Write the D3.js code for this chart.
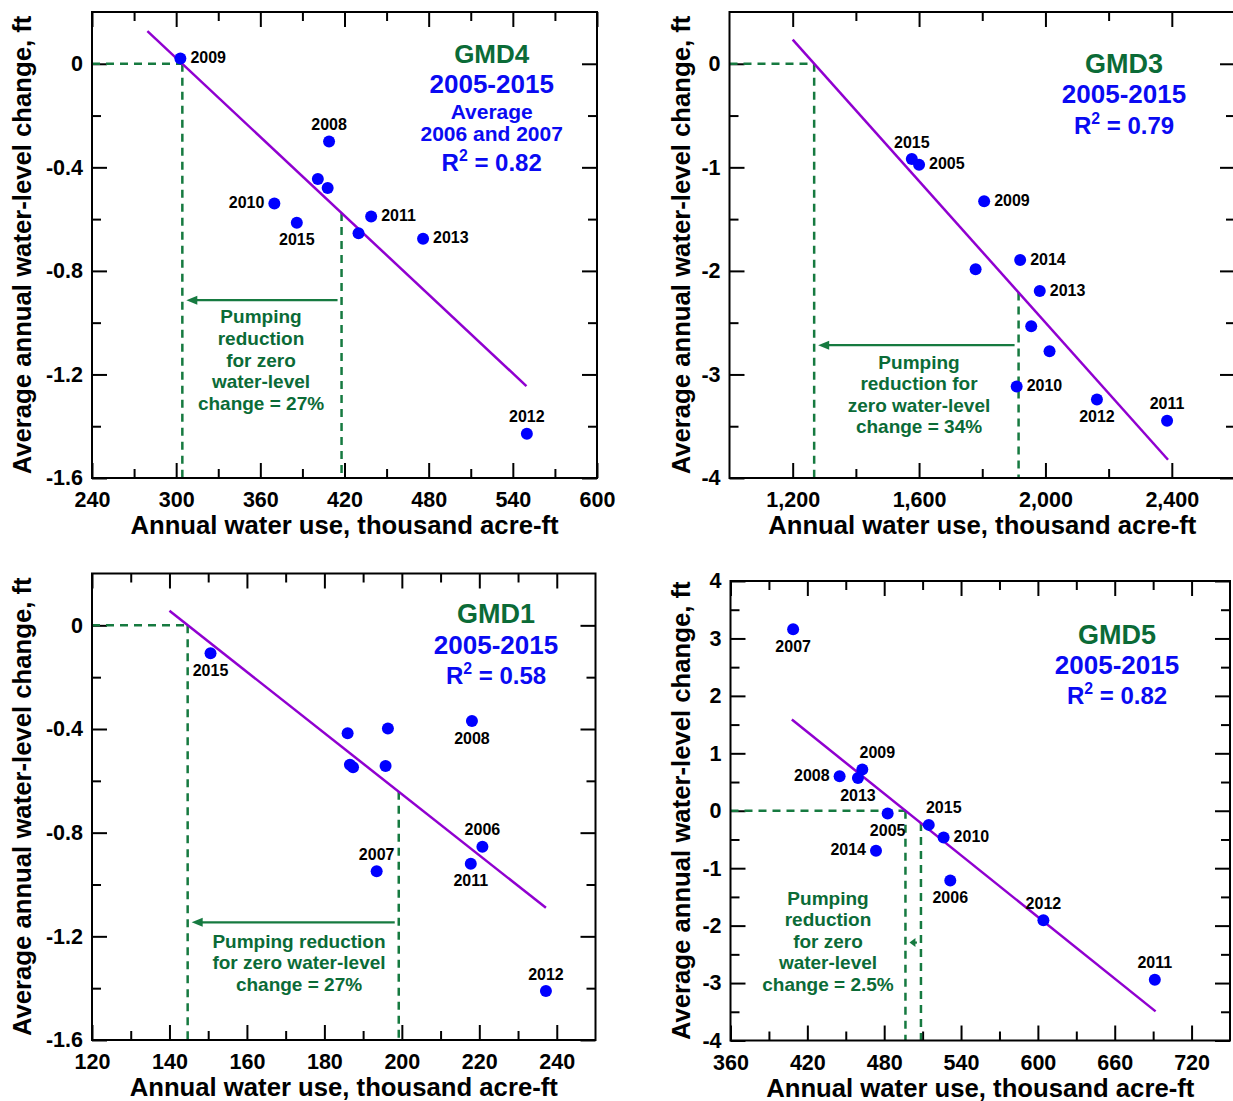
<!DOCTYPE html>
<html><head><meta charset="utf-8">
<script src="https://cdn.jsdelivr.net/npm/d3@7"></script>
<style>
body{margin:0;background:#fff}
svg{display:block}
text{font-family:"Liberation Sans",Arial,Helvetica,sans-serif;font-weight:bold}
</style>
</head><body>
<svg id="chart" width="1233" height="1101"></svg>
<script>
// ---------------- DATA ----------------
// GMD4
const gmd4Years  = ["2009","2008","","","2010","2015","2011","","2013","2012"];
const gmd4Use    = [303, 409, 401, 408, 370, 386, 439, 430, 476, 550];
const gmd4Change = [0.02, -0.30, -0.445, -0.48, -0.54, -0.614, -0.59, -0.655, -0.676, -1.429];
const gmd4Fit    = [279.5, 0.126, 549.7, -1.245];   // [use0, change0, use1, change1]
const gmd4ZeroUse = 304.4, gmd4CurrentUse = 417.9, gmd4ArrowChange = -0.913;
const gmd4XTicks = [240,300,360,420,480,540,600];
const gmd4YTicks = [0,-0.4,-0.8,-1.2,-1.6];
const gmd4Title  = ["GMD4","2005-2015","Average","2006 and 2007","R2 = 0.82"];
const gmd4Pump   = ["Pumping","reduction","for zero","water-level","change = 27%"];

// GMD3
const gmd3Years  = ["2015","2005","2009","","2014","2013","","","2010","2012","2011"];
const gmd3Use    = [1577,1600,1806,1779,1920,1982,1955,2013,1909,2163,2385];
const gmd3Change = [-0.92,-0.975,-1.327,-1.985,-1.895,-2.194,-2.534,-2.776,-3.116,-3.242,-3.448];
const gmd3Fit    = [1200, 0.233, 2388, -3.824];
const gmd3ZeroUse = 1268, gmd3CurrentUse = 1915, gmd3ArrowChange = -2.717;
const gmd3XTicks = [1200,1600,2000,2400];
const gmd3YTicks = [0,-1,-2,-3,-4];
const gmd3Title  = ["GMD3","2005-2015","R2 = 0.79"];
const gmd3Pump   = ["Pumping","reduction for","zero water-level","change = 34%"];

// GMD1
const gmd1Years  = ["2015","","","","","","2008","2006","2011","2007","2012"];
const gmd1Use    = [150.6,186,196.4,186.6,187.4,195.8,218.1,220.8,217.8,193.5,237.2];
const gmd1Change = [-0.108,-0.416,-0.398,-0.538,-0.548,-0.543,-0.369,-0.854,-0.92,-0.949,-1.411];
const gmd1Fit    = [140, 0.056, 237.2, -1.09];
const gmd1ZeroUse = 144.7, gmd1CurrentUse = 199.2, gmd1ArrowChange = -1.146;
const gmd1XTicks = [120,140,160,180,200,220,240];
const gmd1YTicks = [0,-0.4,-0.8,-1.2,-1.6];
const gmd1Title  = ["GMD1","2005-2015","R2 = 0.58"];
const gmd1Pump   = ["Pumping reduction","for zero water-level","change = 27%"];

// GMD5
const gmd5Years  = ["2007","2008","2009","2013","2005","2014","2015","2010","2006","2012","2011"];
const gmd5Use    = [408.9,445.2,462.9,459.5,482.7,473.6,514.8,526.4,531.6,604.3,691.3];
const gmd5Change = [3.158,0.599,0.719,0.569,-0.048,-0.695,-0.246,-0.467,-1.216,-1.905,-2.942];
const gmd5Fit    = [407.9, 1.588, 691.9, -3.493];
const gmd5ZeroUse = 496.6, gmd5CurrentUse = 508.7, gmd5ArrowChange = -2.295;
const gmd5XTicks = [360,420,480,540,600,660,720];
const gmd5YTicks = [4,3,2,1,0,-1,-2,-3,-4];
const gmd5Title  = ["GMD5","2005-2015","R2 = 0.82"];
const gmd5Pump   = ["Pumping","reduction","for zero","water-level","change = 2.5%"];

const xTitle = "Annual water use, thousand acre-ft";
const yTitle = "Average annual water-level change, ft";

// ---------------- LAYOUT / STYLE ----------------
const GREEN_TXT = "#0b6b37", GREEN_DASH = "#167a40", BLUE = "#0000ff", BLUE_TXT = "#0a0af2", PURPLE = "#9000d0";
const svg = d3.select("#chart");

// label placement of year labels (per panel, by index)
const gmd4Place = ["right","above","","","left","below","right","","right","above"];
const gmd3Place = ["above","right","right","","right","right","","","right","below","above"];
const gmd1Place = ["below","","","","","","below","above","below","above","above"];
const gmd5Place = ["below","left","aboveright","below","below","left","aboveright","right","below","above","above"];

const fmtDec = d => d === 0 ? "0" : d.toFixed(1).replace("\u2212","-");
const fmtInt = d => String(d);
const fmtComma = d => d3.format(",")(d);

const panels = [
  {years:gmd4Years,use:gmd4Use,change:gmd4Change,place:gmd4Place,fit:gmd4Fit,zero:gmd4ZeroUse,cur:gmd4CurrentUse,arrowY:gmd4ArrowChange,
   frame:{l:92,t:12,r:597,b:478}, xDom:[240,600], yDom:[-1.6,0.2], xT:gmd4XTicks, yT:gmd4YTicks, xMinorStep:30, yMinorStep:0.2,
   xFmt:fmtInt, yFmt:fmtDec, yTitleX:22,
   title:gmd4Title, titleX:491.7, titleY:[54,84,112,134,163], titleSize:[26,26,21,21,24],
   pump:gmd4Pump, pumpX:261, pumpY0:316.5, pumpStep:21.7},
  {years:gmd3Years,use:gmd3Use,change:gmd3Change,place:gmd3Place,fit:gmd3Fit,zero:gmd3ZeroUse,cur:gmd3CurrentUse,arrowY:gmd3ArrowChange,
   frame:{l:729.5,t:12,r:1235,b:478}, xDom:[1000,2600], yDom:[-4,0.5], xT:gmd3XTicks, yT:gmd3YTicks, xMinorStep:200, yMinorStep:0.5,
   xFmt:fmtComma, yFmt:fmtInt, yTitleX:681,
   title:gmd3Title, titleX:1124, titleY:[64,94,126], titleSize:[27,26,24],
   pump:gmd3Pump, pumpX:919, pumpY0:362, pumpStep:21.6},
  {years:gmd1Years,use:gmd1Use,change:gmd1Change,place:gmd1Place,fit:gmd1Fit,zero:gmd1ZeroUse,cur:gmd1CurrentUse,arrowY:gmd1ArrowChange,
   frame:{l:92,t:573.5,r:595.5,b:1040}, xDom:[120,250], yDom:[-1.6,0.2], xT:gmd1XTicks, yT:gmd1YTicks, xMinorStep:10, yMinorStep:0.2,
   xFmt:fmtInt, yFmt:fmtDec, yTitleX:22,
   title:gmd1Title, titleX:496, titleY:[613.5,644.5,675.5], titleSize:[27,26,24],
   pump:gmd1Pump, pumpX:299, pumpY0:941, pumpStep:21.5},
  {years:gmd5Years,use:gmd5Use,change:gmd5Change,place:gmd5Place,fit:gmd5Fit,zero:gmd5ZeroUse,cur:gmd5CurrentUse,arrowY:gmd5ArrowChange,
   frame:{l:730.5,t:581,r:1230,b:1040.5}, xDom:[360,750], yDom:[-4,4], xT:gmd5XTicks, yT:gmd5YTicks, xMinorStep:30, yMinorStep:0.5,
   xFmt:fmtInt, yFmt:fmtInt, yTitleX:681,
   title:gmd5Title, titleX:1117, titleY:[635,665,696], titleSize:[27,26,24],
   pump:gmd5Pump, pumpX:828, pumpY0:898, pumpStep:21.5}
];

function styleAxis(g){
  g.attr("font-family",null).attr("font-size",null);
  g.select(".domain").remove();
  g.selectAll(".tick line").attr("stroke","#000").attr("stroke-width",2);
  g.selectAll(".tick text").attr("fill","#000").attr("font-size",21.5)
    .style("font-family",'"Liberation Sans",Arial,sans-serif').style("font-weight","bold");
}

function minorValues(dom, step, majors){
  const lo = Math.min(dom[0],dom[1]), hi = Math.max(dom[0],dom[1]);
  const vals = [];
  for (let v = Math.ceil(lo/step - 1e-9)*step; v <= hi + 1e-9; v += step){
    const r = Math.round(v*1000)/1000;
    if (!majors.some(m => Math.abs(m-r) < 1e-6) && r > lo + 1e-9 && r < hi - 1e-9) vals.push(r);
  }
  return vals;
}

panels.forEach(p => {
  const f = p.frame;
  const x = d3.scaleLinear().domain(p.xDom).range([f.l, f.r]);
  const y = d3.scaleLinear().domain(p.yDom).range([f.b, f.t]);
  const g = svg.append("g");

  const xMinor = minorValues(p.xDom, p.xMinorStep, p.xT);
  const yMinor = minorValues(p.yDom, p.yMinorStep, p.yT);

  // bottom axis
  g.append("g").attr("transform",`translate(0,${f.b})`)
    .call(d3.axisBottom(x).tickValues(p.xT).tickSize(-15).tickPadding(14).tickFormat(p.xFmt)).call(styleAxis);
  g.append("g").attr("transform",`translate(0,${f.b})`)
    .call(d3.axisBottom(x).tickValues(xMinor).tickSize(-9).tickFormat("")).call(styleAxis);
  // top axis
  g.append("g").attr("transform",`translate(0,${f.t})`)
    .call(d3.axisTop(x).tickValues(p.xT).tickSize(-15).tickFormat("")).call(styleAxis);
  g.append("g").attr("transform",`translate(0,${f.t})`)
    .call(d3.axisTop(x).tickValues(xMinor).tickSize(-9).tickFormat("")).call(styleAxis);
  // left axis
  g.append("g").attr("transform",`translate(${f.l},0)`)
    .call(d3.axisLeft(y).tickValues(p.yT).tickSize(-15).tickPadding(9).tickFormat(p.yFmt)).call(styleAxis);
  g.append("g").attr("transform",`translate(${f.l},0)`)
    .call(d3.axisLeft(y).tickValues(yMinor).tickSize(-9).tickFormat("")).call(styleAxis);
  // right axis
  g.append("g").attr("transform",`translate(${f.r},0)`)
    .call(d3.axisRight(y).tickValues(p.yT).tickSize(-15).tickFormat("")).call(styleAxis);
  g.append("g").attr("transform",`translate(${f.r},0)`)
    .call(d3.axisRight(y).tickValues(yMinor).tickSize(-9).tickFormat("")).call(styleAxis);

  // axis titles
  g.append("text").attr("x",(f.l+f.r)/2).attr("y",f.b+56).attr("text-anchor","middle")
    .attr("font-size",25.7).attr("fill","#000").text(xTitle);
  g.append("text").attr("transform",`translate(${p.yTitleX},${(f.t+f.b)/2}) rotate(-90)`)
    .attr("text-anchor","middle").attr("dy","0.35em").attr("font-size",25.7).attr("fill","#000").text(yTitle);

  // dashed guide lines
  const [u0,c0,u1,c1] = p.fit;
  const fitAt = u => c0 + (c1-c0)*(u-u0)/(u1-u0);
  const dash = {stroke:GREEN_DASH,"stroke-width":2.5,"stroke-dasharray":"8,6",fill:"none"};
  const addLine = (x1,y1,x2,y2,st) => {
    const l = g.append("line").attr("x1",x1).attr("y1",y1).attr("x2",x2).attr("y2",y2);
    Object.entries(st).forEach(([k,v]) => l.attr(k,v));
  };
  addLine(f.l, y(0), x(p.zero), y(0), dash);
  addLine(x(p.zero), y(0), x(p.zero), f.b, dash);
  addLine(x(p.cur), y(fitAt(p.cur)), x(p.cur), f.b, dash);

  // arrow
  const ay = y(p.arrowY), tip = x(p.zero)+4, start = x(p.cur)-4;
  const headLen = Math.min(11, (start-tip)*0.8);
  addLine(start, ay, tip+headLen-1, ay, {stroke:GREEN_DASH,"stroke-width":2.2});
  g.append("path").attr("d",`M${tip},${ay} L${tip+headLen},${ay-4.5} L${tip+headLen},${ay+4.5} Z`).attr("fill",GREEN_DASH);

  // pumping text
  p.pump.forEach((t,i) => {
    g.append("text").attr("x",p.pumpX).attr("y",p.pumpY0+i*p.pumpStep).attr("dy","0.35em")
      .attr("text-anchor","middle").attr("font-size",19).attr("fill",GREEN_TXT).text(t);
  });

  // regression line
  g.append("line").attr("x1",x(u0)).attr("y1",y(c0)).attr("x2",x(u1)).attr("y2",y(c1))
    .attr("stroke",PURPLE).attr("stroke-width",2.5);

  // points
  const pts = p.use.map((u,i) => ({u, c:p.change[i], yr:p.years[i], pl:p.place[i]}));
  g.selectAll("circle.pt").data(pts).join("circle").attr("class","pt")
    .attr("cx",d => x(d.u)).attr("cy",d => y(d.c)).attr("r",6).attr("fill",BLUE);

  // year labels
  const off = {right:[10,-1,"start"], left:[-10,-1,"end"], above:[0,-17,"middle"], below:[0,17,"middle"], aboveright:[15,-17,"middle"]};
  g.selectAll("text.yr").data(pts.filter(d => d.yr)).join("text").attr("class","yr")
    .attr("x",d => x(d.u)+off[d.pl][0]).attr("y",d => y(d.c)+off[d.pl][1]).attr("dy","0.35em")
    .attr("text-anchor",d => off[d.pl][2]).attr("font-size",16).attr("fill","#000").text(d => d.yr);

  // title block
  p.title.forEach((t,i) => {
    const fs = p.titleSize[i];
    const baseY = p.titleY[i] + 0.35*fs;
    const tx = g.append("text").attr("x",p.titleX).attr("y",baseY)
      .attr("text-anchor","middle").attr("font-size",fs).attr("fill", i===0 ? GREEN_TXT : BLUE_TXT);
    if (t.startsWith("R2")) {
      const shift = 0.42*fs;
      tx.append("tspan").text("R");
      tx.append("tspan").attr("dy",-shift).attr("font-size",fs*0.66).text("2");
      tx.append("tspan").attr("dy",shift).text(t.slice(2));
    } else tx.text(t);
  });

  // frame
  g.append("rect").attr("x",f.l).attr("y",f.t).attr("width",f.r-f.l).attr("height",f.b-f.t)
    .attr("fill","none").attr("stroke","#000").attr("stroke-width",2);
});
</script>
</body></html>
